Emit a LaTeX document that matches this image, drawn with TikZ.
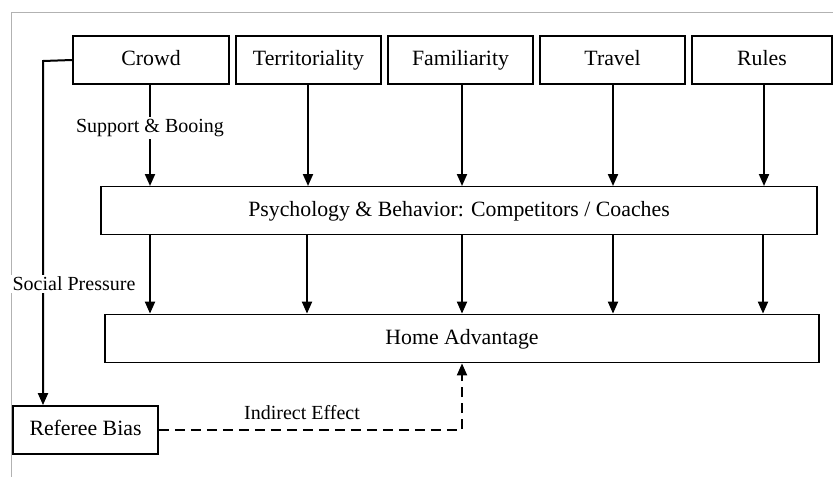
\documentclass[tikz,border=0pt]{standalone}
\usepackage{fontspec}
\setmainfont{Liberation Serif}
\usetikzlibrary{arrows.meta,positioning}

\begin{document}
\begin{tikzpicture}[x=0.5pt, y=-0.5pt,
        font=\fontsize{10.9}{13}\selectfont,
        box/.style={draw, line width=0.9pt, minimum height=24pt, inner sep=0pt,
            text height=1.6ex, text depth=0.4ex},
        flow/.style={-{Triangle[length=6pt, width=5pt]}, line width=1pt},
        lbl/.style={fill=white, inner sep=1pt, font=\fontsize{10}{12}\selectfont}]
    \useasboundingbox (0, 0) rectangle (833, 477);
    % frame
    \draw[gray!60, line width=0.5pt] (833, 12) -- (11, 12) -- (11, 477);

    \node[box, minimum width=78pt] (crowd) at (151, 60) {Crowd};
    \node[box, minimum width=72.5pt] (terr) at (308.5, 60) {Territoriality};
    \node[box, minimum width=72.5pt] (fam) at (460.5, 60) {Familiarity};
    \node[box, minimum width=72.5pt] (travel) at (612.5, 60) {Travel};
    \node[box, minimum width=70pt] (rules) at (762, 60) {Rules};

    \node[box, minimum width=358pt] (psych) at (459, 210.5) {Psychology \& Behavior: Competitors / Coaches};
    \node[box, minimum width=357pt] (home) at (462, 338.5) {Home Advantage};
    \node[box, minimum width=72.5pt] (ref) at (85.5, 430) {Referee Bias};

    \coordinate (bend) at (43, 61);

    \draw[flow] (crowd.south -| 150, 0) -- (150, 186);
    \node[lbl] (sb) at (150, 128) {Support \& Booing};
    \draw[flow] (308, 84) -- (308, 186);
    \draw[flow] (462, 84) -- (462, 186);
    \draw[flow] (613, 84) -- (613, 186);
    \draw[flow] (764, 84) -- (764, 186);

    \foreach \x in {150, 307, 462, 613, 763}
        \draw[flow] (psych.south -| \x, 0) -- (home.north -| \x, 0);

    \draw[flow] (crowd.west) -- (bend) -- (bend |- ref.north);
    \node[lbl] (sp) at (74, 284) {Social Pressure};

    \draw[flow, dash pattern=on 5pt off 3pt] (ref.east) -| (home.south);
    \node[lbl, fill=none] (ie) at (302, 413) {Indirect Effect};
\end{tikzpicture}
\end{document}
